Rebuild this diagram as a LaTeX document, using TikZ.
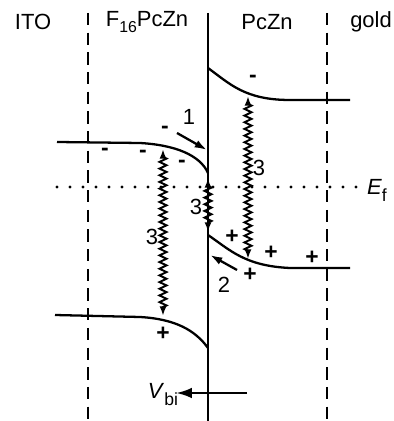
\documentclass[tikz,border=0pt]{standalone}
\usepackage{fontspec}
\setmainfont{Liberation Sans}
\usetikzlibrary{arrows.meta, decorations.pathmorphing}

\begin{document}
\begin{tikzpicture}[
    x=0.02cm, y=-0.02cm,
    band/.style={line width=1.3pt},
    sepline/.style={line width=1.4pt, dash pattern=on 7pt off 4.2pt},
    fermi/.style={line width=1.9pt, line cap=round, dash pattern=on 0pt off 7.4pt},
    lbl/.style={font=\fontsize{12.5}{14}\selectfont, inner sep=0pt},
    sgn/.style={font=\fontsize{13}{14}\selectfont\bfseries, inner sep=0pt},
    arr/.style={-{Latex[length=7pt, width=4.5pt]}, line width=1.3pt},
    wavy/.style={{Latex[length=5.5pt, width=4pt]}-{Latex[length=5.5pt, width=4pt]},
      line width=1.1pt, decorate,
      decoration={zigzag, amplitude=2pt, segment length=3.8pt,
        pre length=4.5pt, post length=4.5pt}},
  ]
  \useasboundingbox (0,0) rectangle (394,421);

  % layer labels
  \node[lbl] (ito)  at (33,22)  {ITO};
  \node[lbl] (f16)  at (147,22) {F\raisebox{-0.45ex}{\fontsize{9}{10}\selectfont 16}PcZn};
  \node[lbl] (pczn) at (267,22) {PcZn};
  \node[lbl] (gold) at (371,22) {gold};

  % boundaries
  \draw[sepline] (88,13) -- (88,421);
  \draw[sepline] (327,13) -- (327,421);
  \draw[band] (208,13) -- (208,421);

  % Fermi level
  \draw[fermi] (57,187) -- (357,187);
  \node[lbl] (ef) at (377,190) {\textit{E}\raisebox{-0.6ex}{\fontsize{10}{11}\selectfont f}};

  % bands
  \draw[band] (208,68) .. controls (230,84) and (245,100) .. (290,100) -- (350,100);
  \draw[band] (57,142) -- (140,143) .. controls (175,145) and (200,155) .. (208,173);
  \draw[band] (208,235) .. controls (230,250) and (245,266) .. (290,268) -- (350,268);
  \draw[band] (55,315) -- (140,317) .. controls (175,319) and (195,330) .. (208,348);

  % charges
  \node[sgn] (m1) at (253,79)  {-};
  \node[sgn] (m2) at (165,130) {-};
  \node[sgn] (m3) at (105,152) {-};
  \node[sgn] (m4) at (143,154) {-};
  \node[sgn] (m5) at (182,164) {-};
  \node[sgn] (p1) at (232,237) {+};
  \node[sgn] (p2) at (271,253) {+};
  \node[sgn] (p3) at (312,258) {+};
  \node[sgn] (p4) at (250,275) {+};
  \node[sgn] (p5) at (163,334) {+};

  % transfer arrows
  \coordinate (t1a) at (177,133);
  \coordinate (t1b) at (207,150);
  \coordinate (t2a) at (237,270);
  \coordinate (t2b) at (210,255);
  \draw[arr] (t1a) -- (t1b);
  \draw[arr] (t2a) -- (t2b);
  \node[lbl] (n1) at (189,117) {1};
  \node[lbl] (n2) at (224,285) {2};

  % recombination
  \coordinate (w1a) at (163,149);
  \coordinate (w1b) at (163,316);
  \coordinate (w2a) at (208,178);
  \coordinate (w2b) at (208,232);
  \coordinate (w3a) at (248,96);
  \coordinate (w3b) at (248,259);
  \draw[wavy] (w1a) -- (w1b);
  \draw[wavy] (w2a) -- (w2b);
  \draw[wavy] (w3a) -- (w3b);
  \node[lbl] (n3a) at (152,237) {3};
  \node[lbl] (n3b) at (196,207) {3};
  \node[lbl] (n3c) at (259,168) {3};

  % built-in field
  \coordinate (vb1) at (247,393);
  \coordinate (vb2) at (176,393);
  \draw[-{Latex[length=9pt, width=6pt]}, line width=1.5pt] (vb1) -- (vb2);
  \node[lbl] (vbi) at (163,395) {\textit{V}\raisebox{-0.6ex}{\fontsize{10}{11}\selectfont bi}};
\end{tikzpicture}
\end{document}
